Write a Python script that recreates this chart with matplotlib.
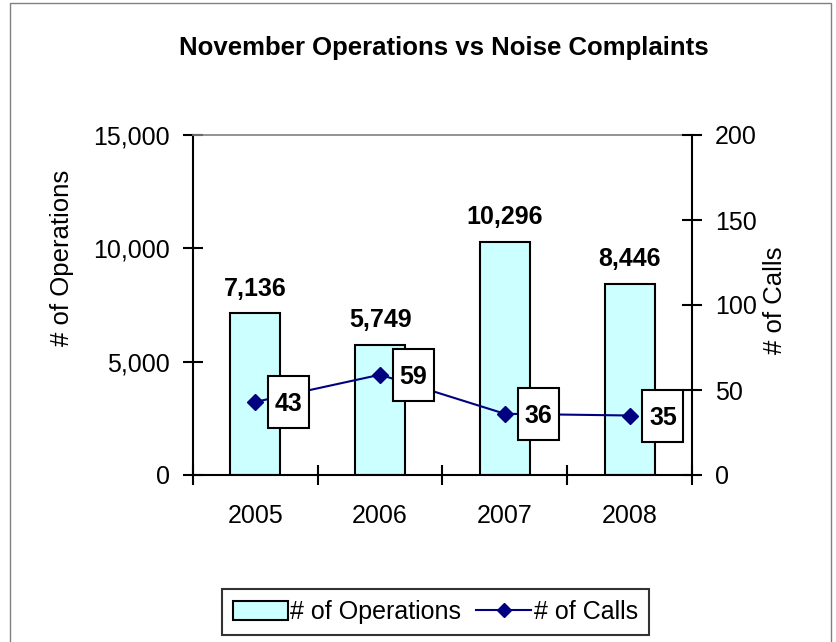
import matplotlib
matplotlib.use('Agg')
import matplotlib.pyplot as plt
from matplotlib.patches import Patch, Rectangle
from matplotlib.lines import Line2D
from matplotlib.text import Text
from matplotlib.offsetbox import DrawingArea, AnnotationBbox

plt.rcParams['font.family'] = ['Liberation Sans', 'DejaVu Sans']

years = ['2005', '2006', '2007', '2008']
operations = [7136, 5749, 10296, 8446]
calls = [43, 59, 36, 35]

W, H = 837, 642
fig = plt.figure(figsize=(W / 100, H / 100), dpi=100)

# outer chart border (Excel style)
fig.patches.append(Rectangle((10 / W, -0.02), (831 - 10) / W, 1 - 3 / H + 0.02,
                             transform=fig.transFigure, fill=False,
                             ec='#808080', lw=1.0))

ax = fig.add_axes([193 / W, 1 - 475 / H, (692 - 193) / W, (475 - 135) / H])
ax2 = ax.twinx()

x = range(len(years))
ax.bar(x, operations, width=0.4, color='#CCFFFF', edgecolor='black',
       linewidth=1.5, zorder=2)
ax.set_xlim(-0.5, 3.5)
ax.set_ylim(0, 15000)
ax.set_yticks([0, 5000, 10000, 15000])
ax.set_yticklabels(['{:,}'.format(v) for v in [0, 5000, 10000, 15000]])
ax.set_xticks([-0.5, 0.5, 1.5, 2.5, 3.5])
ax.set_xticklabels([])
ax.set_xticks(list(x), minor=True)
ax.set_xticklabels(years, minor=True)
ax.tick_params(axis='x', which='minor', length=0, pad=21, labelsize=18)
ax.tick_params(axis='x', which='major', direction='inout', length=15, width=1.5)
ax.tick_params(axis='y', direction='inout', length=15, width=1.5, pad=9,
               labelsize=18)

for xi, v in zip(x, operations):
    ax.text(xi, v + 550, '{:,}'.format(v), ha='center', va='bottom',
            fontsize=18, fontweight='bold')

ax2.plot(list(x), calls, color='#000080', marker='D', markersize=8,
         linewidth=1.5, zorder=3)
ax2.set_ylim(0, 200)
ax2.set_yticks([0, 50, 100, 150, 200])
ax2.tick_params(axis='y', direction='inout', length=15, width=1.5, pad=9,
                labelsize=18)

# boxed value labels next to the calls markers
bw, bh = 41 * 0.72, 52 * 0.72
for xi, v in zip(x, calls):
    da = DrawingArea(bw, bh, 0, 0)
    da.add_artist(Rectangle((0, 0), bw, bh, fc='white', ec='black', lw=1.5))
    da.add_artist(Text(bw / 2, bh / 2, str(v), ha='center',
                       va='center_baseline', fontsize=18,
                       fontweight='bold'))
    ab = AnnotationBbox(da, (xi, v), xybox=(24, 0), xycoords='data',
                        boxcoords='offset points', frameon=False,
                        box_alignment=(0.5, 0.5), pad=0)
    ab.set_zorder(5)
    ax2.add_artist(ab)

for a in (ax, ax2):
    for s in a.spines.values():
        s.set_linewidth(1.5)
ax.spines['top'].set_color('#808080')
ax.spines['top'].set_linewidth(1.2)
ax2.spines['top'].set_visible(False)
ax.spines['right'].set_visible(False)
ax2.spines['left'].set_visible(False)
ax2.spines['bottom'].set_visible(False)

fig.text(444 / W, 1 - 48 / H, 'November Operations vs Noise Complaints',
         ha='center', va='center', fontsize=18.5, fontweight='bold')
fig.text(62 / W, 1 - 258 / H, '# of Operations', rotation=90,
         ha='center', va='center', fontsize=18.5)
fig.text(775 / W, 1 - 300 / H, '# of Calls', rotation=90,
         ha='center', va='center', fontsize=18.5)

handles = [Patch(facecolor='#CCFFFF', edgecolor='black', linewidth=1.5),
           Line2D([], [], color='#000080', marker='D', markersize=7,
                  linewidth=1.5)]
leg = fig.legend(handles, ['# of Operations', '# of Calls'], loc='center',
                 bbox_to_anchor=(435.5 / W, 1 - 612 / H), ncol=2,
                 fontsize=18, frameon=True, fancybox=False,
                 handlelength=2.2, handleheight=0.8, handletextpad=0.1,
                 columnspacing=0.6, borderpad=0.45)
leg.get_frame().set_edgecolor('black')
leg.get_frame().set_linewidth(1.5)

fig.savefig('out.png', dpi=100)
